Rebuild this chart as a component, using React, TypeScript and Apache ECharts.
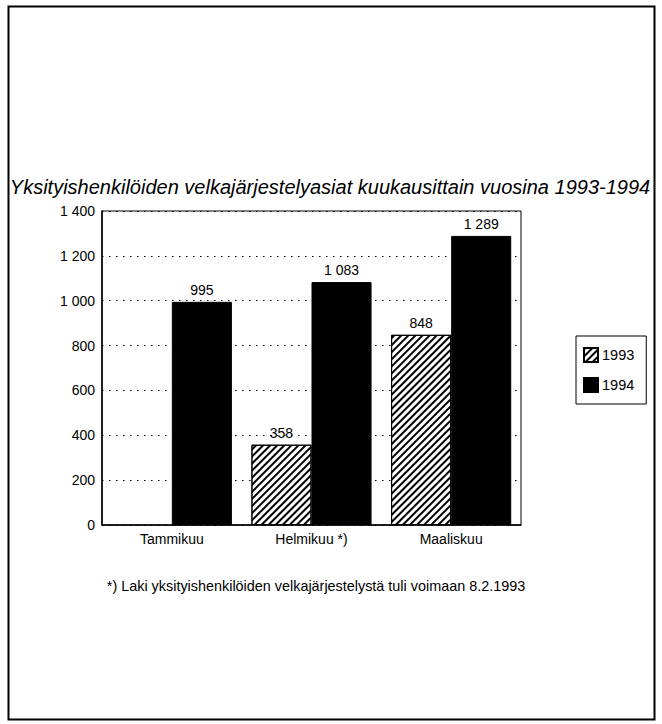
import React, { useEffect, useRef } from "react";
import * as echarts from "echarts";

const titleText = "Yksityishenkilöiden velkajärjestelyasiat kuukausittain vuosina 1993-1994";
const footnoteText = "*) Laki yksityishenkilöiden velkajärjestelystä tuli voimaan 8.2.1993";
const categories = ["Tammikuu", "Helmikuu *)", "Maaliskuu"];
const seriesNames = ["1993", "1994"];
const values1993: (number | null)[] = [null, 358, 848];
const values1994: number[] = [995, 1083, 1289];
const yMin = 0;
const yMax = 1400;
const yStep = 200;

const FONT = "'Liberation Sans', Arial, Helvetica, sans-serif";

function fmt(v: number): string {
  return String(v).replace(/\B(?=(\d{3})+(?!\d))/g, " ");
}

export default function App() {
  const ref = useRef<HTMLDivElement>(null);
  useEffect(() => {
    if (!ref.current) return;
    const chart = echarts.init(ref.current, undefined, { renderer: "svg" });
    const hatch = {
      symbol: "rect",
      symbolSize: 1,
      dashArrayX: [1, 0],
      dashArrayY: [2, 3],
      rotation: -Math.PI / 4,
      color: "#000",
      backgroundColor: "#fff",
    };
    const labelCfg = {
      show: true,
      position: "top" as const,
      distance: 5,
      color: "#000",
      fontSize: 14,
      fontFamily: FONT,
      formatter: (p: any) => (p.value == null ? "" : fmt(p.value)),
    };
    chart.setOption({
      animation: false,
      backgroundColor: "#fff",
      textStyle: { fontFamily: FONT, color: "#000" },
      grid: {
        left: 102,
        right: 141,
        top: 211,
        bottom: 199,
        show: true,
        borderColor: "#000",
        borderWidth: 1,
        backgroundColor: "transparent",
      },
      legend: {
        orient: "vertical",
        left: 576,
        top: 336,
        itemWidth: 14,
        itemHeight: 14,
        itemGap: 14,
        padding: [11, 12, 11, 7],
        borderColor: "#000",
        borderWidth: 1,
        icon: "rect",
        textStyle: { fontSize: 14.5, fontFamily: FONT, color: "#000", padding: [0, 0, 0, -1] },
        data: seriesNames,
      },
      xAxis: {
        type: "category",
        data: categories,
        axisLine: { show: true, lineStyle: { color: "#000", width: 1.5 } },
        axisTick: { show: false },
        axisLabel: { color: "#000", fontSize: 14, fontFamily: FONT, margin: 7 },
      },
      yAxis: {
        type: "value",
        min: yMin,
        max: yMax,
        interval: yStep,
        axisLine: { show: true, lineStyle: { color: "#000", width: 1.5 } },
        axisTick: { show: false },
        axisLabel: {
          color: "#000",
          fontSize: 14,
          fontFamily: FONT,
          margin: 7,
          formatter: (v: number) => fmt(v),
        },
        splitLine: {
          show: true,
          lineStyle: { color: "#000", type: [1.5, 5.5], width: 1.2 },
        },
      },
      series: [
        {
          name: seriesNames[0],
          type: "bar",
          data: values1993,
          barGap: "0%",
          barCategoryGap: "14%",
          itemStyle: { color: "#fff", borderColor: "#000", borderWidth: 1, decal: hatch },
          label: labelCfg,
        },
        {
          name: seriesNames[1],
          type: "bar",
          data: values1994,
          barGap: "0%",
          barCategoryGap: "14%",
          itemStyle: { color: "#000", borderColor: "#000", borderWidth: 1 },
          label: labelCfg,
        },
      ],
      graphic: [
        {
          type: "rect",
          shape: { x: 8.5, y: 6.5, width: 646, height: 713 },
          style: { fill: "none", stroke: "#000", lineWidth: 2 },
          silent: true,
        },
        {
          type: "text",
          x: 330,
          y: 187,
          style: {
            text: titleText,
            fontSize: 20,
            fontStyle: "italic",
            fontFamily: FONT,
            fill: "#000",
            align: "center",
            verticalAlign: "middle",
          },
        },
        {
          type: "text",
          x: 316,
          y: 586,
          style: {
            text: footnoteText,
            fontSize: 14.4,
            fontFamily: FONT,
            fill: "#000",
            align: "center",
            verticalAlign: "middle",
          },
        },
      ],
    });
    return () => chart.dispose();
  }, []);
  return (
    <div
      ref={ref}
      style={{ position: "fixed", left: 0, top: 0, width: 662, height: 724, background: "#fff" }}
    />
  );
}
